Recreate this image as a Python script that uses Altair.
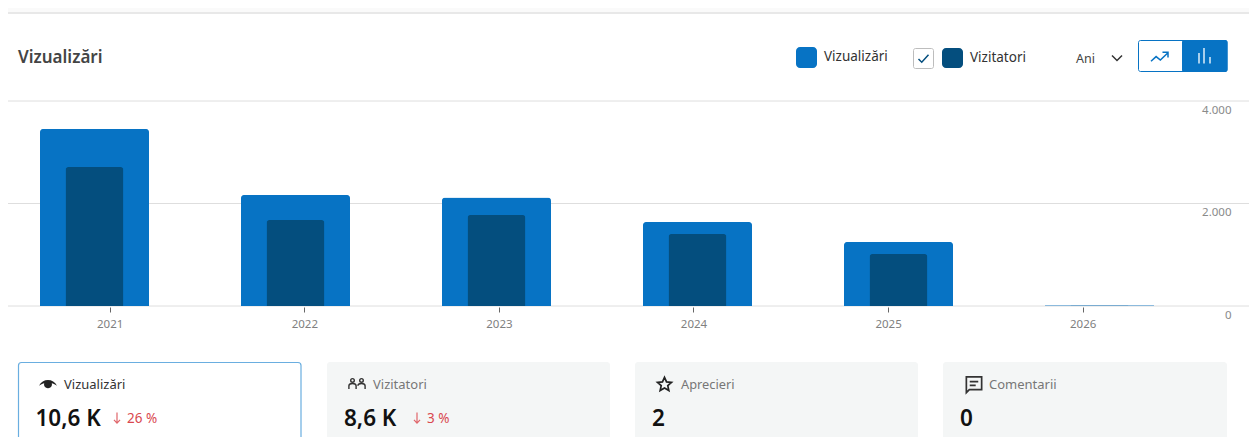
import altair as alt
import pandas as pd

# ---- values ----
years = ["2021", "2022", "2023", "2024", "2025", "2026"]
views = [3454, 2166, 2117, 1639, 1249, 14]
visitors = [2712, 1678, 1776, 1405, 1015, 10]
y_ticks = [0, 2000, 4000]
title_text = "Vizualizări"
legend_names = ["Vizualizări", "Vizitatori"]
period = "Ani"
card_names = ["Vizualizări", "Vizitatori", "Aprecieri", "Comentarii"]
card_values = ["10,6 K", "8,6 K", "2", "0"]
card_deltas = ["26 %", "3 %"]

FONT = "Noto Sans"
BLUE = "#0773c4"
NAVY = "#044e7e"
OFF = 8
W, H = 1241, 429
ONE = alt.Data(values=[{"a": 1}])


def box(x1, y1, x2, y2, fill, stroke=None, radius=0, sw=1):
    kw = dict(fill=fill, cornerRadius=radius)
    if stroke:
        kw.update(stroke=stroke, strokeWidth=sw)
    return alt.Chart(ONE).mark_rect(**kw).encode(
        x=alt.value(x1 - OFF), x2=alt.value(x2 - OFF),
        y=alt.value(y1 - OFF), y2=alt.value(y2 - OFF))


def label(txt, x, y, size, color, weight=400, align="left"):
    return alt.Chart(ONE).mark_text(
        text=txt, font=FONT, fontSize=size, color=color, fontWeight=weight,
        align=align, baseline="middle",
    ).encode(x=alt.value(x - OFF), y=alt.value(y - OFF))


def icon(path, x, y, px, color, filled=False, sw=1.5):
    kw = dict(shape=path, size=px * px, opacity=1)
    if filled:
        kw.update(filled=True, fill=color, strokeWidth=0)
    else:
        kw.update(filled=False, stroke=color, strokeWidth=sw)
    return alt.Chart(ONE).mark_point(**kw).encode(
        x=alt.value(x - OFF), y=alt.value(y - OFF))


# ---- page furniture ----
furniture = [
    box(8, 0, 1257, 12, "#fafafa"),
    box(8, 12, 1257, 14, "#e8e8e8"),
    label(title_text, 18, 58, 17, "#444444", 600),
    box(796, 47, 817, 68, BLUE, radius=4),
    label(legend_names[0], 824, 56.5, 13.5, "#333333"),
    box(913.5, 48.5, 933.5, 68.5, "#ffffff", "#bdbdbd", 2),
    icon("M-1,0.1L-0.35,0.75L1,-0.75", 923.5, 58.5, 10, NAVY, sw=1.5),
    box(942, 48, 963, 68, NAVY, radius=4),
    label(legend_names[1], 970, 57.5, 13.5, "#333333"),
    label(period, 1076, 58.5, 12.5, "#444444"),
    icon("M-1,-0.5L0,0.5L1,-0.5", 1117, 58, 10, "#333333", sw=1.5),
    box(1138.5, 40.5, 1227, 71.5, "#ffffff", BLUE, 2),
    box(1182, 40, 1227.5, 72, BLUE, radius=2),
    icon("M-1,0.5L-0.4,-0.05L0.1,0.35L1,-0.5M0.35,-0.55L1,-0.55L1,0.05",
         1159.5, 57, 17, BLUE, sw=1.5),
    box(1198, 53, 1200, 63.5, "#a8cfec"),
    box(1203, 48, 1205, 63.5, "#a8cfec"),
    box(1209, 57, 1211, 63.5, "#a8cfec"),
    box(18.5, 362.5, 301, 450, "#ffffff", "#6aaee0", 3, 1.2),
    box(327, 362, 610, 450, "#f4f6f6", radius=3),
    box(635, 362, 918, 450, "#f4f6f6", radius=3),
    box(943, 362, 1227, 450, "#f4f6f6", radius=3),
    icon("M-1,0.15C-0.6,-0.72 0.6,-0.72 1,0.15C0.75,-0.05 0.55,-0.12 0.42,-0.15"
         "A0.44,0.44 0 1 1 -0.42,-0.15C-0.55,-0.12 -0.75,-0.05 -1,0.15Z",
         48, 384.5, 18, "#222222", filled=True),
    label(card_names[0], 64, 384.5, 13, "#333333"),
    icon("M-0.3,-0.4A0.2,0.2 0 1 1 -0.7,-0.4A0.2,0.2 0 1 1 -0.3,-0.4"
         "M0.7,-0.4A0.2,0.2 0 1 1 0.3,-0.4A0.2,0.2 0 1 1 0.7,-0.4"
         "M-0.9,0.55V0.2Q-0.9,-0.05 -0.5,-0.05Q-0.1,-0.05 -0.1,0.2V0.55"
         "M0.1,0.2Q0.1,-0.05 0.5,-0.05Q0.9,-0.05 0.9,0.2V0.55",
         357, 384, 18, "#333333", sw=1.4),
    label(card_names[1], 373, 384.5, 13, "#777777"),
    icon("M0,-0.95L0.29,-0.3L1,-0.23L0.47,0.24L0.62,0.93L0,0.57L-0.62,0.93L-0.47,0.24"
         "L-1,-0.23L-0.29,-0.3Z",
         664.5, 384, 14, "#222222", sw=1.7),
    label(card_names[2], 681, 384.5, 12.8, "#777777"),
    icon("M-0.9,-0.9H0.9V0.6H-0.55L-0.9,0.95ZM-0.5,-0.35H0.5M-0.5,0.1H0.2",
         974, 384.5, 17, "#333333", sw=1.7),
    label(card_names[3], 989, 384.5, 13, "#777777"),
    label(card_values[0], 35.5, 419, 22.5, "#111111", 600),
    icon("M0,-1V0.9M-0.55,0.35L0,0.95L0.55,0.35", 117, 418, 11, "#e0666b", sw=1.2),
    label(card_deltas[0], 127, 418.5, 13.5, "#d9484f"),
    label(card_values[1], 344, 419, 22.5, "#111111", 600),
    icon("M0,-1V0.9M-0.55,0.35L0,0.95L0.55,0.35", 417, 418, 11, "#e0666b", sw=1.2),
    label(card_deltas[1], 427, 418.5, 13.5, "#d9484f"),
    label(card_values[2], 652, 419, 22.5, "#111111", 600),
    label(card_values[3], 960, 419, 22.5, "#111111", 600),
]

# ---- the data marks ----
df = pd.DataFrame({"year": years, "views": views, "visitors": visitors})
ticks_df = pd.DataFrame({"tick": y_ticks})

# the bars and the axis labels sit on different spacings in the reference
bar_scale = alt.Scale(domain=years, range=[94.5 - 100.5 - OFF, 1099.5 + 100.5 - OFF],
                      paddingInner=0, paddingOuter=0)
axis_scale = alt.Scale(domain=years, range=[110.2 - 97.3 - OFF, 1083.2 + 97.3 - OFF],
                       paddingInner=0, paddingOuter=0)
y_scale = alt.Scale(domain=[0, 4000], range=[306 - OFF, 101 - OFF], nice=False)

grid = alt.Chart(ticks_df).mark_rule(color="#dedede", strokeWidth=1).encode(
    y=alt.Y("tick:Q", scale=y_scale, axis=alt.Axis(
        orient="right", values=y_ticks, grid=False, domain=False, ticks=False,
        title=None, offset=-(W - (1231 - OFF)), labelPadding=0, labelAlign="right",
        labelBaseline="middle", labelOffset=9, labelFont=FONT, labelFontSize=11.5,
        labelColor="#8a8a8a",
        labelExpr="replace(format(datum.value, ','), ',', '.')")),
    x=alt.value(0), x2=alt.value(W))

year_axis = alt.Chart(df).mark_rule(opacity=0).encode(
    x=alt.X("year:N", scale=axis_scale, sort=years, axis=alt.Axis(
        orient="bottom", offset=-(H - (306 - OFF)) + 1, domain=False, grid=False,
        title=None, labelAngle=0, tickColor="#666666", tickSize=5, tickWidth=1,
        labelPadding=6, labelFont=FONT, labelFontSize=11.5, labelColor="#808080")),
)
outer = alt.Chart(df).mark_bar(
    width=109, color=BLUE, cornerRadiusTopLeft=3, cornerRadiusTopRight=3
).encode(
    x=alt.X("year:N", scale=bar_scale, sort=years, axis=None),
    y=alt.Y("views:Q", scale=y_scale),
)
inner = alt.Chart(df).mark_bar(
    width=58, color=NAVY, cornerRadiusTopLeft=3, cornerRadiusTopRight=3
).encode(
    x=alt.X("year:N", scale=bar_scale, sort=years, axis=None),
    y=alt.Y("visitors:Q", scale=y_scale),
)

chart = alt.layer(*furniture, grid, year_axis, outer, inner).resolve_scale(
    x="independent"
).properties(
    width=W, height=H, padding=0,
    autosize=alt.AutoSizeParams(type="none"),
    background="#ffffff",
).configure_view(strokeWidth=0)

chart.save("out.html", embed_options={"renderer": "svg", "actions": False})
